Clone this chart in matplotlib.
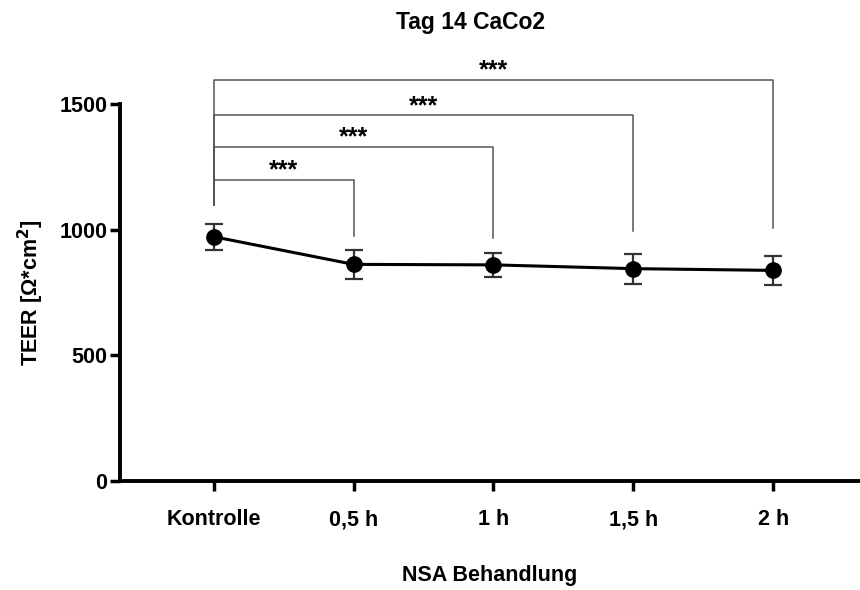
import matplotlib
matplotlib.use("Agg")
import matplotlib.pyplot as plt

categories = ["Kontrolle", "0,5 h", "1 h", "1,5 h", "2 h"]
means = [972, 862, 860, 845, 838]
errors = [52, 58, 49, 60, 59]
yticks = [0, 500, 1000, 1500]

# significance comparisons: (index a, index b, bracket height, right leg end, label)
comparisons = [
    (0, 1, 1198, 976, "***"),
    (0, 2, 1330, 968, "***"),
    (0, 3, 1455, 996, "***"),
    (0, 4, 1595, 1008, "***"),
]
left_leg_end = 1100

plt.rcParams['font.family'] = ['Liberation Sans', 'DejaVu Sans']

fig = plt.figure(figsize=(8.6, 5.9), dpi=100)
ax = fig.add_axes([0.1395, 0.1847, 0.8605, 0.639])

x = list(range(len(categories)))
ax.errorbar(x, means, yerr=errors, color='black', lw=2.2, marker='o', ms=11,
            ecolor='#333333', elinewidth=1.6, capsize=6.5, capthick=1.6, zorder=3)

ax.set_xlim(-0.67, 4.62)
ax.set_ylim(0, 1500)
ax.set_yticks(yticks)
ax.set_yticklabels([str(v) for v in yticks], fontsize=15.5, fontweight='bold')
ax.set_xticks(x)
ax.set_xticklabels(categories, fontsize=15.5, fontweight='bold')
ax.tick_params(axis='both', width=2.5, length=7, color='black')
ax.tick_params(axis='x', pad=25)
ax.tick_params(axis='y', pad=2)
for lbl in ax.get_xticklabels():
    lbl.set_va('baseline')
for s in ['top', 'right']:
    ax.spines[s].set_visible(False)
for s in ['left', 'bottom']:
    ax.spines[s].set_linewidth(2.8)

for a, b, h, rend, lab in comparisons:
    ax.plot([a, a, b, b], [left_leg_end, h, h, rend], color='#555555', lw=1.1,
            clip_on=False, zorder=2)
    ax.text((a + b) / 2, h + 10, lab, ha='center', va='baseline', fontsize=18,
            fontweight='bold')

ax.set_ylabel("TEER [Ω*cm$^\\mathbf{2}$]", fontsize=15.5, fontweight='bold', labelpad=10)
ax.set_xlabel("NSA Behandlung", fontsize=15.5, fontweight='bold', labelpad=25)
fig.text(0.547, 0.962, "Tag 14 CaCo2", ha='center', va='center', fontsize=16.5,
         fontweight='bold')

fig.savefig("out.png", dpi=100)
